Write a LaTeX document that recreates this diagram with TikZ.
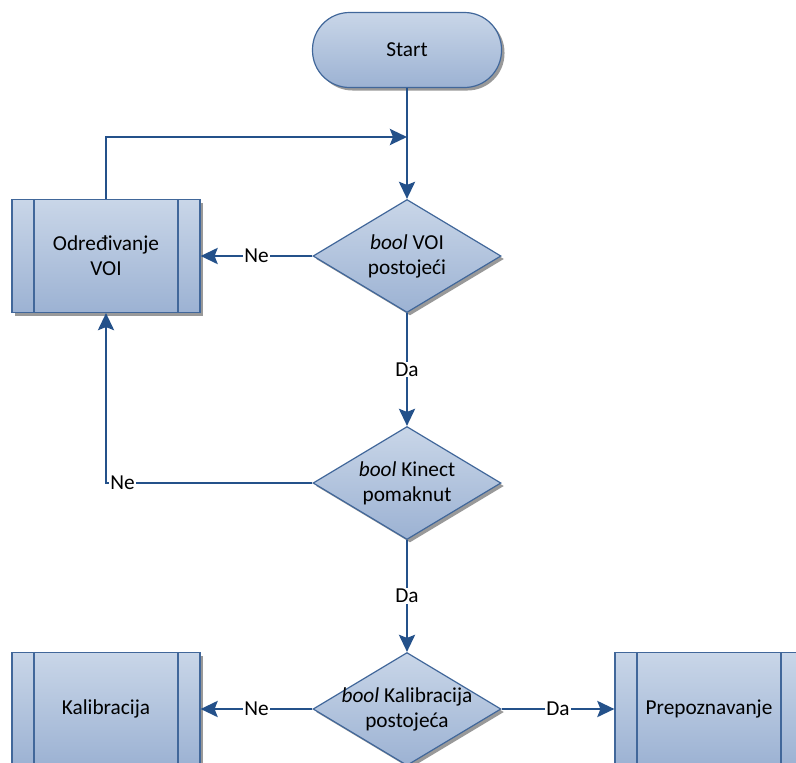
\documentclass[tikz,border=0pt]{standalone}
\usepackage{fontspec}
\setmainfont{Carlito}
\usetikzlibrary{shapes.geometric,shadows,arrows.meta}

\definecolor{flowline}{HTML}{24518A}
\definecolor{flowedge}{HTML}{41679A}
\definecolor{flowtop}{HTML}{C9D6E8}
\definecolor{flowbot}{HTML}{9CB2D3}

\tikzset{
  shapebase/.style={draw=flowedge, line width=1.2pt, top color=flowtop, bottom color=flowbot,
    drop shadow={shadow xshift=3pt, shadow yshift=-3pt, fill=black!40, opacity=1}},
  terminal/.style={shapebase, rectangle, rounded corners=37pt, minimum width=189pt, minimum height=75pt},
  process/.style={shapebase, rectangle, minimum width=188pt, minimum height=113pt, align=center,
    path picture={\draw[flowedge, line width=1.2pt]
      ([xshift=22pt]path picture bounding box.north west) -- ([xshift=22pt]path picture bounding box.south west)
      ([xshift=-22pt]path picture bounding box.north east) -- ([xshift=-22pt]path picture bounding box.south east);}},
  decision/.style={shapebase, diamond, minimum width=188pt, minimum height=113pt, inner sep=0pt},
  conn/.style={flowline, line width=2.7pt, -{Stealth[length=17pt,width=16pt,inset=3pt]}},
  lbl/.style={fill=white, inner sep=1pt, text=black},
}

\begin{document}
\begin{tikzpicture}[x=1pt, y=-1pt, font=\fontsize{21.3}{25}\selectfont]
  \useasboundingbox (0,0) rectangle (796,763);

  \node[terminal] (start) at (407,50) {Start};
  \node[process] (voi) at (106,256) {Određivanje\\VOI};
  \node[decision, label={[align=center]center:{\textit{bool} VOI\\postojeći}}] (voiq) at (407,256) {};
  \node[decision, label={[align=center]center:{\textit{bool} Kinect\\pomaknut}}] (kinq) at (407,483) {};
  \node[decision, label={[align=center]center:{\textit{bool} Kalibracija\\postojeća}}] (kalq) at (407,709) {};
  \node[process] (kal) at (106,709) {Kalibracija};
  \node[process] (prep) at (709,709) {Prepoznavanje};
  \coordinate (join) at (407,137);

  \draw[conn] (start) -- (voiq);
  \draw[conn] (voi.north) |- (join);
  \draw[conn] (voiq) -- node[lbl]{Ne} (voi);
  \draw[conn] (voiq) -- node[lbl]{Da} (kinq);
  \draw[conn] (kinq.west) -| node[lbl, pos=0.46]{Ne} (voi.south);
  \draw[conn] (kinq) -- node[lbl]{Da} (kalq);
  \draw[conn] (kalq) -- node[lbl]{Ne} (kal);
  \draw[conn] (kalq) -- node[lbl]{Da} (prep);

\end{tikzpicture}
\end{document}
